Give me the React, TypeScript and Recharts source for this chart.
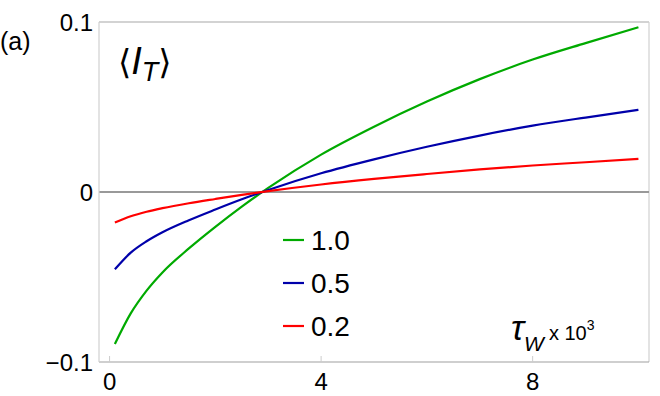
import React from "react";
import { LineChart, Line, XAxis, YAxis, ReferenceLine } from "recharts";

const tau = [0.1, 0.4, 0.7, 1, 1.5, 2, 2.5, 3, 4, 5, 6, 7, 8, 9, 10];
const series10 = [-0.0894, -0.0714, -0.058, -0.0473, -0.0332, -0.0205, -0.0086, 0.0024, 0.022, 0.0384, 0.0532, 0.0664, 0.0779, 0.0876, 0.0969];
const series05 = [-0.0455, -0.0357, -0.029, -0.0237, -0.0166, -0.0103, -0.0043, 0.0012, 0.011, 0.0192, 0.0266, 0.0332, 0.039, 0.0438, 0.0483];
const series02 = [-0.018, -0.0143, -0.0116, -0.0095, -0.0066, -0.0041, -0.0017, 0.0005, 0.0044, 0.0077, 0.0106, 0.0133, 0.0156, 0.0175, 0.0195];
const seriesNames = ["1.0", "0.5", "0.2"];
const seriesKeys = ["s10", "s05", "s02"];
const seriesColors = ["#00aa00", "#0000aa", "#ff0000"];
const xTicks = [0, 4, 8];
const yTicks = [-0.1, 0, 0.1];

const data = tau.map((t, i) => ({ t, s10: series10[i], s05: series05[i], s02: series02[i] }));

const FONT = "'Liberation Sans', Arial, sans-serif";

const fmtY = (v: number) => (v === 0 ? "0" : v < 0 ? "\u2212" + String(Math.abs(v)) : String(v));

const XTick = (p: any) => (
  <text x={p.x} y={390} textAnchor="middle" fontSize={24} fontFamily={FONT} fill="#000">
    {p.payload.value}
  </text>
);

const YTick = (p: any) => (
  <text x={93} y={p.y + 8.5} textAnchor="end" fontSize={24} fontFamily={FONT} fill="#000">
    {fmtY(p.payload.value)}
  </text>
);

export default function App() {
  return (
    <div style={{ position: "absolute", left: 0, top: 0, width: 660, height: 396, background: "#fff" }}>
      <LineChart width={660} height={396} data={data} margin={{ top: 22, right: 11, bottom: 0, left: 0 }}>
        <XAxis
          type="number"
          dataKey="t"
          domain={[-0.2, 10.2]}
          ticks={xTicks}
          height={34}
          tick={<XTick />}
          tickSize={-6}
          tickLine={{ stroke: "#cccccc" }}
          axisLine={{ stroke: "#a0a0a0", strokeWidth: 1.2 }}
          allowDataOverflow
        />
        <YAxis
          type="number"
          domain={[-0.1, 0.1]}
          ticks={yTicks}
          width={99}
          tick={<YTick />}
          tickLine={false}
          axisLine={{ stroke: "#d0d0d0", strokeWidth: 1.2 }}
          allowDataOverflow
        />
        <ReferenceLine y={0.1} stroke="#a8a8a8" strokeWidth={1.2} />
        <ReferenceLine x={10.2} stroke="#d0d0d0" strokeWidth={1.2} />
        <ReferenceLine y={0} stroke="#999999" strokeWidth={2} />
        {seriesKeys.map((k, i) => (
          <Line
            key={k}
            dataKey={k}
            type="monotone"
            stroke={seriesColors[i]}
            strokeWidth={2.2}
            dot={false}
            isAnimationActive={false}
          />
        ))}
      </LineChart>
      <svg width={660} height={396} style={{ position: "absolute", left: 0, top: 0, pointerEvents: "none" }}>
        <text x={0} y={50} fontSize={25} fontFamily={FONT} fill="#000">(a)</text>
        <text x={118} y={74} fontSize={38} fontFamily={FONT} fill="#000">
          <tspan fontFamily="'DejaVu Sans', sans-serif" fontSize={34}>{"\u27E8"}</tspan>
          <tspan fontStyle="italic">I</tspan>
          <tspan fontStyle="italic" fontSize={27} dy={7}>T</tspan>
          <tspan fontFamily="'DejaVu Sans', sans-serif" fontSize={34} dy={-7}>{"\u27E9"}</tspan>
        </text>
        {seriesNames.map((n, i) => (
          <g key={n}>
            <line x1={283} x2={304} y1={240 + i * 43} y2={240 + i * 43} stroke={seriesColors[i]} strokeWidth={2.2} />
            <text x={311} y={250 + i * 43} fontSize={28} fontFamily={FONT} fill="#000">{n}</text>
          </g>
        ))}
        <text x={511} y={340} fontSize={35} fontFamily={FONT} fill="#000">
          <tspan fontStyle="italic">{"\u03C4"}</tspan>
          <tspan fontStyle="italic" fontSize={21} dy={11}>W</tspan>
          <tspan fontSize={20} dy={-11} dx={5}>x 10</tspan>
          <tspan fontSize={14} dy={-10}>3</tspan>
        </text>
      </svg>
    </div>
  );
}
